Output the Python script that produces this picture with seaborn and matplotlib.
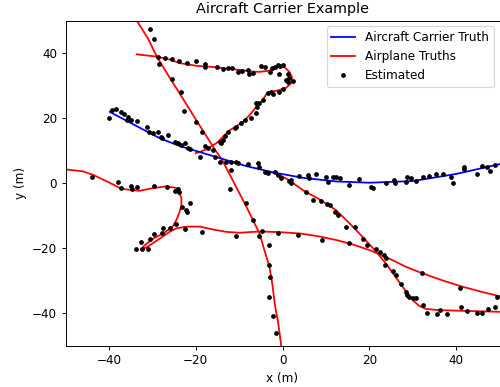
import matplotlib
matplotlib.use("Agg")
import matplotlib.pyplot as plt
from matplotlib.lines import Line2D
import pandas as pd
import seaborn as sns

# truth tracks (m)
carrier_x = [-39.8, -34.0, -28.3, -23.7, -16.0, -8.3, -2.2, 4.7, 12.3, 20.0, 30.0, 40.0, 50.0, 52.0]
carrier_y = [21.9, 17.8, 13.8, 11.4, 8.3, 5.2, 3.3, 1.6, 0.5, 0.1, 0.6, 2.8, 5.8, 6.5]

plane_a_x = [-35.0, -33.6, -31.0, -29.0, -26.5, -24.0, -21.8, -19.8, -16.0, -13.7, -10.3, -8.5, -6.8, -5.3,
             -4.2, -3.0, -2.3, -1.8, -1.0, -0.3, 0.0]
plane_a_y = [53.0, 50.0, 44.5, 39.0, 33.5, 28.2, 23.5, 19.2, 11.2, 6.6, -2.2, -6.8, -11.4, -15.5,
             -20.5, -25.8, -31.5, -37.0, -43.0, -50.0, -53.0]

plane_b_x = [-33.6, -29.0, -26.0, -23.7, -20.0, -16.0, -12.0, -9.9, -7.0, -5.3, -3.5, -2.2, -0.7, 0.5,
             1.6, 2.2, 2.0, 0.8, -0.7, -2.5, -3.7, -4.6, -6.0, -7.5, -9.2, -12.2, -15.2, -17.5, -19.0, -20.0]
plane_b_y = [39.6, 38.9, 38.0, 36.9, 36.1, 35.7, 35.1, 34.8, 34.3, 34.2, 34.5, 34.8, 35.8, 35.6,
             34.2, 32.5, 30.7, 29.3, 28.6, 28.1, 27.4, 25.5, 23.5, 21.0, 18.7, 16.2, 12.3, 10.4, 9.6, 9.2]

plane_c_x = [-3.5, -1.4, 1.5, 4.7, 8.5, 12.3, 14.7, 17.0, 19.3, 21.5, 24.0, 26.0, 28.0, 30.0,
             31.5, 33.0, 36.0, 39.0, 44.0, 50.0, 52.0]
plane_c_y = [3.6, 3.0, 0.9, -2.2, -5.0, -8.3, -11.4, -14.5, -17.8, -21.0, -25.0, -28.8, -32.5, -36.0,
             -37.8, -38.7, -39.1, -39.2, -39.4, -39.6, -39.6]

plane_d_x = [-52.0, -50.0, -46.0, -43.6, -40.0, -37.0, -33.0, -30.0, -26.7, -24.2, -23.3, -23.3, -23.8,
             -24.5, -25.3, -27.5, -29.8, -31.8, -32.6, -31.2, -28.3, -26.0, -24.4, -22.0, -19.0, -16.0,
             -13.0, -10.0, -5.3, -0.7, 3.9, 8.0, 12.3, 16.0, 20.0, 25.0, 28.5, 32.3, 37.0, 41.5, 46.0,
             50.0, 52.0]
plane_d_y = [4.4, 4.2, 3.6, 2.5, 0.2, -1.8, -2.4, -1.6, -1.0, -1.6, -4.5, -7.0, -9.2,
             -11.5, -13.4, -15.5, -17.1, -19.2, -20.4, -19.7, -17.1, -15.0, -13.9, -13.4, -13.4, -14.3,
             -15.0, -15.3, -14.9, -15.1, -15.5, -16.3, -17.5, -18.8, -20.6, -23.5, -25.8, -27.8, -30.0,
             -31.9, -33.5, -34.8, -35.4]

# estimated positions (m)
est_carrier_x = [-39.9, -39.4, -38.4, -37.3, -36.5, -35.9, -35.6, -34.8, -33.5, -31.2, -30.7, -29.8,
                 -28.7, -28.0, -27.7, -26.4, -24.8, -24.1, -23.3, -22.5, -21.8, -21.2, -19.1, -17.2,
                 -16.0, -15.6, -14.5, -13.0, -11.8, -10.6, -10.3, -11.8, -8.0, -5.7, -5.3, -4.1, -3.4,
                 -1.8, -1.1, -0.3, 2.0, 2.0, 3.7, 5.8, 6.2, 7.7, 10.0, 10.4, 11.6, 12.3, 13.3, 15.4,
                 17.7, 20.4, 20.9, 23.8, 25.7, 26.0, 28.4, 28.8, 29.6, 30.7, 32.3, 33.8, 35.3, 36.9,
                 38.8, 39.2, 41.8, 41.8, 44.9, 46.0, 47.2, 47.7, 48.9]
est_carrier_y = [20.1, 22.5, 22.8, 21.9, 21.1, 19.4, 20.4, 19.4, 19.1, 17.3, 15.6, 15.3,
                 15.8, 14.2, 13.8, 14.8, 12.7, 12.2, 11.7, 12.2, 10.7, 10.5, 8.1, 10.7,
                 10.2, 8.1, 6.6, 6.6, 6.6, 6.6, 6.1, 4.0, 5.8, 6.1, 5.0, 3.5, 3.0,
                 3.5, 2.5, 1.4, 0.9, -0.1, 2.2, 2.5, 1.4, 2.8, 1.9, 0.4, 1.9, 1.8, 1.4, -0.6,
                 1.1, -1.1, -1.6, 0.1, 0.9, -0.1, 0.4, 1.9, 1.4, 0.7, 1.9, 2.2, 2.8, 2.8,
                 1.9, -0.1, 5.0, 4.2, 2.8, 5.2, 4.8, 3.8, 5.5]

est_a_x = [-30.6, -29.6, -28.4, -25.4, -23.5, -22.8, -20.0, -18.5, -17.9, -12.0, -8.3, -6.8, -4.7,
           -5.4, -3.1, -3.0, -2.8, -3.1, -2.2, -1.4]
est_a_y = [47.3, 44.3, 36.5, 32.0, 28.1, 22.2, 18.7, 15.6, 11.4, -1.9, -6.1, -11.4, -14.8,
           -16.3, -19.1, -25.2, -29.0, -35.2, -40.8, -46.0]

est_b_x = [-28.7, -27.1, -25.4, -23.8, -22.1, -20.0, -17.9, -17.9, -15.2, -13.7, -12.6, -11.6, -10.3,
           -9.3, -8.0, -7.7, -6.8, -4.9, -4.1, -2.8, -2.4, -1.8, -1.1, -0.5, 0.1, -0.9, 1.2, 1.6,
           2.4, 1.2, 0.9, 0.1, -0.7, -2.6, -3.4, -2.2, -4.5, -5.3, -6.0, -5.9, -6.2, -7.2, -8.7,
           -9.5, -10.6, -11.0, -12.6, -13.3, -13.7, -14.1, -14.5]
est_b_y = [38.9, 38.4, 38.1, 37.5, 36.8, 37.5, 36.5, 35.8, 35.6, 35.0, 35.5, 35.5, 34.1,
           34.5, 34.8, 33.4, 33.8, 36.0, 35.6, 34.2, 35.3, 35.8, 36.3, 36.0, 36.3, 33.5, 33.5, 32.2,
           31.5, 31.2, 31.7, 28.8, 28.1, 28.1, 27.6, 27.4, 25.5, 24.5, 24.5, 23.5, 21.5, 20.1, 19.4,
           18.4, 17.3, 16.8, 15.8, 14.6, 13.2, 12.2, 12.7]

est_c_x = [1.6, 5.3, 7.0, 8.9, 10.2, 11.0, 12.2, 12.7, 14.6, 16.6, 18.6, 19.4, 21.5, 22.5, 23.4,
           23.8, 23.7, 25.4, 26.1, 27.3, 28.4, 28.8, 29.2, 30.0, 30.7, 32.3, 33.2, 35.5, 36.3, 37.8,
           41.1, 42.6, 44.9, 46.0, 47.4, 49.0]
est_c_y = [0.7, -2.9, -5.2, -5.4, -6.5, -6.8, -8.8, -9.8, -13.4, -13.6, -17.3, -19.1, -20.4, -21.1, -22.2,
           -23.2, -25.2, -27.0, -28.3, -31.1, -33.4, -34.5, -35.0, -35.5, -35.5, -37.5, -40.1, -40.3, -39.1, -40.3,
           -38.1, -39.4, -40.1, -39.9, -38.8, -38.1]

est_d_x = [-44.0, -37.9, -37.1, -35.0, -34.6, -33.6, -29.6, -26.6, -24.8, -24.1, -23.8, -21.4, -23.1,
           -22.3, -22.1, -24.6, -22.5, -26.0, -27.5, -27.8, -29.6, -30.6, -32.5, -33.8, -32.3, -31.0,
           -18.5, -10.8, -1.1, 3.5, 9.0, 15.4, 32.1, 40.9, 49.5]
est_d_y = [1.8, 0.2, -1.6, -0.9, -1.9, -1.3, -0.9, -1.1, -2.4, -1.9, -2.9, -6.2, -7.5,
           -8.3, -8.8, -12.7, -14.2, -13.9, -13.8, -15.4, -15.6, -17.2, -18.1, -20.2, -20.2, -20.2,
           -15.0, -16.2, -15.4, -16.0, -17.5, -18.4, -27.8, -32.4, -35.0]

planes = pd.concat([
    pd.DataFrame({"x": plane_a_x, "y": plane_a_y, "track": "A"}),
    pd.DataFrame({"x": plane_b_x, "y": plane_b_y, "track": "B"}),
    pd.DataFrame({"x": plane_c_x, "y": plane_c_y, "track": "C"}),
    pd.DataFrame({"x": plane_d_x, "y": plane_d_y, "track": "D"}),
], ignore_index=True)

est = pd.DataFrame({
    "x": est_carrier_x + est_a_x + est_b_x + est_c_x + est_d_x,
    "y": est_carrier_y + est_a_y + est_b_y + est_c_y + est_d_y,
})

fig, ax = plt.subplots(figsize=(500 / 86, 387 / 86), dpi=86)
fig.subplots_adjust(left=0.131, right=0.999, bottom=0.107, top=0.947)

sns.lineplot(data=planes, x="x", y="y", units="track", estimator=None, sort=False,
             color="red", lw=1.5, legend=False, ax=ax, zorder=2)
sns.lineplot(x=carrier_x, y=carrier_y, estimator=None, sort=False,
             color="blue", lw=1.5, legend=False, ax=ax, zorder=2.5)
sns.scatterplot(data=est, x="x", y="y", color="black", s=16, linewidth=0,
                legend=False, ax=ax, zorder=3)

ax.set_xlim(-50, 50)
ax.set_ylim(-50, 50)
ax.set_xticks([-40, -20, 0, 20, 40])
ax.set_yticks([-40, -20, 0, 20, 40])
ax.set_xlabel("x (m)")
ax.set_ylabel("y (m)")
ax.set_title("Aircraft Carrier Example")

handles = [
    Line2D([0], [0], color="blue", lw=1.5, label="Aircraft Carrier Truth"),
    Line2D([0], [0], color="red", lw=1.5, label="Airplane Truths"),
    Line2D([0], [0], color="black", marker=".", ls="none", label="Estimated"),
]
ax.legend(handles=handles, loc="upper right")

fig.savefig("out.png", dpi=86)
